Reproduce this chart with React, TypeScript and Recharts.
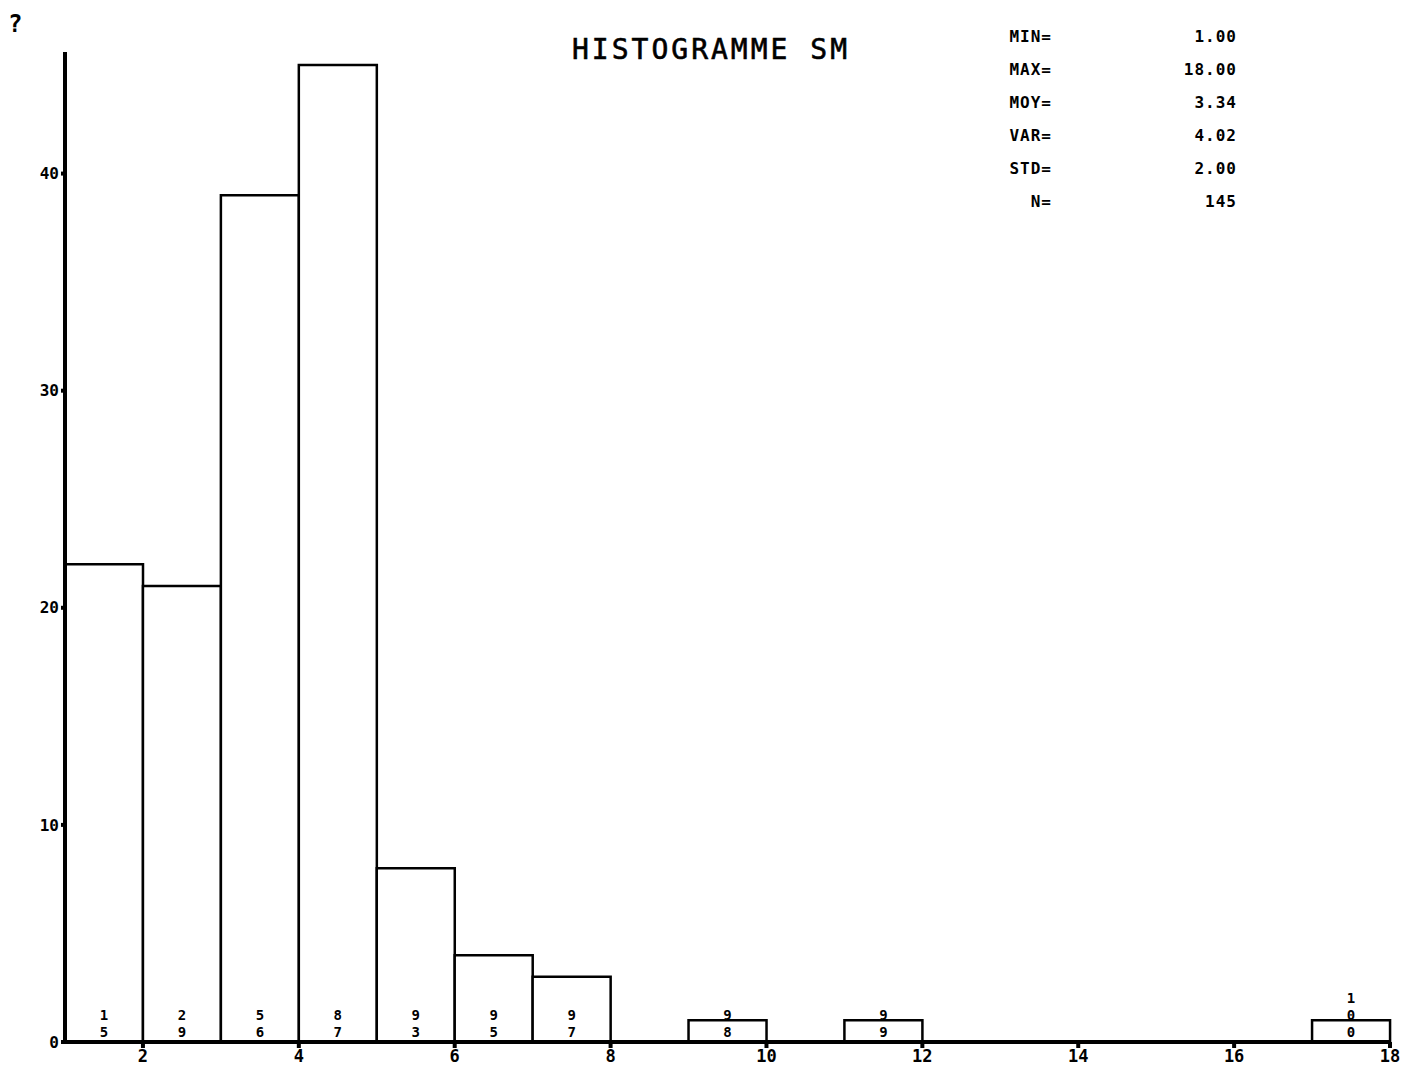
import React from 'react';
import { BarChart, Bar, XAxis, YAxis, LabelList } from 'recharts';

// bins of width 1, from 1-2 up to 17-18
const binStarts = [1, 2, 3, 4, 5, 6, 7, 8, 9, 10, 11, 12, 13, 14, 15, 16, 17];
const counts = [22, 21, 39, 45, 8, 4, 3, 0, 1, 0, 1, 0, 0, 0, 0, 0, 1];
// cumulative percentages written under each bar
const cumLabels = ['15', '29', '56', '87', '93', '95', '97', '', '98', '', '99', '', '', '', '', '', '100'];
const xTicks = [2, 4, 6, 8, 10, 12, 14, 16, 18];
const yTicks = [0, 10, 20, 30, 40];
const statNames = ['MIN=', 'MAX=', 'MOY=', 'VAR=', 'STD=', 'N='];
const statValues = ['1.00', '18.00', '3.34', '4.02', '2.00', '145'];

const data = binStarts.map((s, i) => ({ start: s, count: counts[i], cum: cumLabels[i] }));

const MONO = '"DejaVu Sans Mono", "Liberation Mono", monospace';

const CumLabel = (props: any) => {
  const { x, y, width, height, value } = props;
  const lbl = value == null ? '' : String(value);
  if (!lbl) return null;
  const base = y + height;
  const cx = x + width / 2;
  const digits = lbl.split('');
  return (
    <g>
      {digits.map((d, i) => (
        <text
          key={i}
          x={cx}
          y={base - 5 - (digits.length - 1 - i) * 17}
          textAnchor="middle"
          fontFamily={MONO}
          fontWeight="bold"
          fontSize={14}
          fill="#000"
        >
          {d}
        </text>
      ))}
    </g>
  );
};

const App: React.FC = () => {
  return (
    <div style={{ position: 'absolute', left: 0, top: 0, width: 1411, height: 1089, background: '#fff' }}>
      <BarChart
        width={1411}
        height={1089}
        data={data}
        barCategoryGap={0}
        margin={{ top: 52, right: 21, left: 0, bottom: 0 }}
      >
        <XAxis xAxisId="bins" dataKey="start" hide height={0} />
        <XAxis
          xAxisId="num"
          dataKey="start"
          type="number"
          domain={[1, 18]}
          ticks={xTicks}
          allowDataOverflow
          height={47}
          stroke="#000"
          strokeWidth={4}
          tickSize={6}
          tick={{ fill: '#000', fontFamily: MONO, fontWeight: 'bold', fontSize: 17 }}
        />
        <YAxis
          domain={[0, 45.6]}
          ticks={yTicks}
          allowDataOverflow
          width={65}
          stroke="#000"
          strokeWidth={4}
          tickSize={4}
          tick={{ fill: '#000', fontFamily: MONO, fontWeight: 'bold', fontSize: 16 }}
        />
        <Bar xAxisId="bins" dataKey="count" fill="#fff" stroke="#000" strokeWidth={2.5} isAnimationActive={false}>
          <LabelList dataKey="cum" content={<CumLabel />} />
        </Bar>
      </BarChart>

      <div style={{ position: 'absolute', left: 8, top: 10, fontFamily: MONO, fontWeight: 'bold', fontSize: 24 }}>?</div>

      <div
        style={{
          position: 'absolute',
          left: 572,
          top: 33,
          fontFamily: MONO,
          fontSize: 28,
          letterSpacing: 3,
          whiteSpace: 'nowrap',
          WebkitTextStroke: '0.6px #000',
        }}
      >
        HISTOGRAMME SM
      </div>

      {statNames.map((n, i) => (
        <React.Fragment key={n}>
          <div
            style={{
              position: 'absolute',
              right: 1411 - 1052,
              top: 27 + i * 33,
              fontFamily: MONO,
              fontWeight: 'bold',
              fontSize: 16,
              letterSpacing: 1,
            }}
          >
            {n}
          </div>
          <div
            style={{
              position: 'absolute',
              right: 1411 - 1237,
              top: 27 + i * 33,
              fontFamily: MONO,
              fontWeight: 'bold',
              fontSize: 16,
              letterSpacing: 1,
            }}
          >
            {statValues[i]}
          </div>
        </React.Fragment>
      ))}
    </div>
  );
};

export default App;
